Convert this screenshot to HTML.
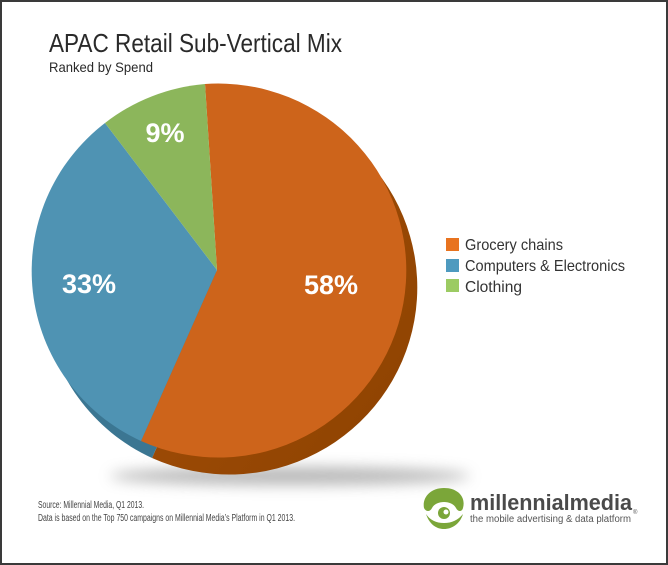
<!DOCTYPE html>
<html><head><meta charset="utf-8"><style>
html,body{margin:0;padding:0;background:#fff}
svg{display:block}
text{font-family:"Liberation Sans",sans-serif}
</style></head><body>
<svg width="668" height="565" viewBox="0 0 668 565" xmlns="http://www.w3.org/2000/svg">
<defs>
<filter id="bl" x="-50%" y="-200%" width="200%" height="500%"><feGaussianBlur stdDeviation="7"/></filter>
<linearGradient id="dk" x1="0" y1="0" x2="1" y2="1"><stop offset="0" stop-color="#a8500a"/><stop offset="1" stop-color="#8c4200"/></linearGradient>
</defs>
<rect x="1" y="1" width="666" height="563" fill="#fff" stroke="#3a3a3a" stroke-width="2"/>
<text x="49" y="52" font-size="26" fill="#2a2a2a" textLength="293" lengthAdjust="spacingAndGlyphs">APAC Retail Sub-Vertical Mix</text>
<text x="49" y="72" font-size="14" fill="#2a2a2a" textLength="104" lengthAdjust="spacingAndGlyphs">Ranked by Spend</text>
<ellipse cx="290" cy="476" rx="180" ry="9" fill="#999" filter="url(#bl)" opacity="0.7"/>
<g transform="translate(11,17)">
<path d="M217,270 L205,84 A188,187 0 1 1 141,441 Z" fill="url(#dk)"/>
<path d="M217,270 L141,441 A188,187 0 0 1 105,123 Z" fill="#3b7692"/>
</g>
<path d="M217,270 L205,84 A188,187 0 1 1 141,441 Z" fill="#cd641b"/>
<path d="M217,270 L141,441 A188,187 0 0 1 105,123 Z" fill="#4f93b3"/>
<path d="M217,270 L105,123 A188,187 0 0 1 205,84 Z" fill="#8cb65b"/>
<text x="165" y="142" font-size="27" font-weight="bold" fill="#fff" text-anchor="middle">9%</text>
<text x="89" y="293" font-size="27" font-weight="bold" fill="#fff" text-anchor="middle">33%</text>
<text x="331" y="294" font-size="27" font-weight="bold" fill="#fff" text-anchor="middle">58%</text>
<rect x="446" y="238" width="13" height="13" fill="#e8731f"/>
<rect x="446" y="259" width="13" height="13" fill="#4e9abf"/>
<rect x="446" y="279" width="13" height="13" fill="#9ccb63"/>
<text x="465" y="250" font-size="16" fill="#333" textLength="98" lengthAdjust="spacingAndGlyphs">Grocery chains</text>
<text x="465" y="271" font-size="16" fill="#333" textLength="160" lengthAdjust="spacingAndGlyphs">Computers &amp; Electronics</text>
<text x="465" y="292" font-size="16" fill="#333" textLength="57" lengthAdjust="spacingAndGlyphs">Clothing</text>
<text x="38" y="508" font-size="10" fill="#444" textLength="106" lengthAdjust="spacingAndGlyphs">Source: Millennial Media, Q1 2013.</text>
<text x="38" y="521" font-size="10" fill="#444" textLength="257" lengthAdjust="spacingAndGlyphs">Data is based on the Top 750 campaigns on Millennial Media’s Platform in Q1 2013.</text>
<g fill="#7ba639">
<path d="M444,488 C430,488 422,498 424,508 C426,512 430,512 432,508 C436,500 452,500 456,508 C458,512 462,512 463,508 C466,497 458,488 444,488 Z"/>
<path d="M426,514 C430,526 438,529 444,529 C452,529 460,524 463,514 C458,520 452,523 444,523 C436,523 430,520 426,514 Z"/>
<circle cx="444" cy="513" r="6"/>
</g>
<circle cx="446" cy="512" r="2.5" fill="#fff"/>
<text x="470" y="510" font-size="22" font-weight="bold" fill="#4a4a4a" textLength="162" lengthAdjust="spacingAndGlyphs">millennialmedia</text>
<text x="470" y="522" font-size="10" fill="#555" textLength="161" lengthAdjust="spacingAndGlyphs">the mobile advertising &amp; data platform</text>
<text x="633" y="514" font-size="6" fill="#555">®</text>
</svg>
</body></html>
